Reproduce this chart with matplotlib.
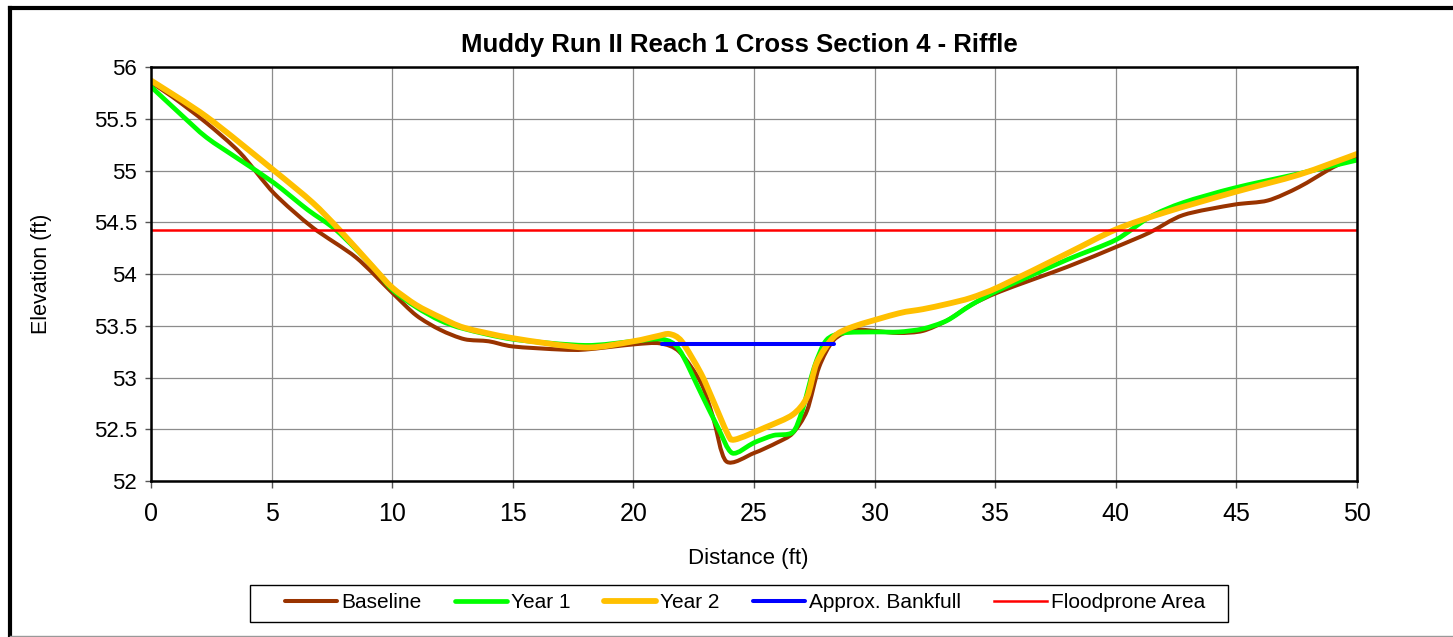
import matplotlib.pyplot as plt
from matplotlib.lines import Line2D
from matplotlib.patches import PathPatch, Rectangle
from matplotlib.path import Path

plt.rcParams['font.family'] = ['Liberation Sans', 'DejaVu Sans']

# survey points (distance ft, elevation ft)
baseline_x = [0, 0.9, 2.3, 3.7, 5.1, 6.7, 8.5, 10, 11, 12, 13, 14, 15, 17, 18, 20,
              21.1, 21.9, 22.8, 23.3, 23.85, 25, 25.95, 26.6, 27.2, 27.7, 28.3, 29.1,
              30, 31, 32, 33, 34, 35.2, 38, 40, 41.4, 42.8, 44.9, 46.3, 47.6, 49, 50]
baseline_y = [55.85, 55.71, 55.46, 55.17, 54.78, 54.45, 54.16, 53.82, 53.6, 53.46,
              53.37, 53.35, 53.30, 53.27, 53.27, 53.32, 53.33, 53.25, 52.95, 52.62,
              52.19, 52.27, 52.37, 52.46, 52.68, 53.1, 53.36, 53.46, 53.45, 53.43,
              53.45, 53.55, 53.7, 53.83, 54.07, 54.26, 54.4, 54.57, 54.67, 54.71,
              54.84, 55.03, 55.14]

year1_x = [0, 1.2, 2.3, 3.7, 5.1, 6.5, 7.7, 9.2, 10, 11, 12, 13, 15, 18, 20, 21.2,
           21.9, 22.8, 23.5, 24.1, 25, 25.8, 26.6, 27, 27.5, 28, 28.7, 30, 31, 32,
           33, 34, 35.2, 38, 40, 41.4, 42.8, 44.9, 47.6, 50]
year1_y = [55.81, 55.55, 55.32, 55.1, 54.88, 54.62, 54.42, 54.07, 53.85, 53.68,
           53.55, 53.47, 53.37, 53.31, 53.35, 53.37, 53.27, 52.85, 52.52, 52.27,
           52.37, 52.44, 52.47, 52.68, 53.1, 53.36, 53.43, 53.44, 53.44, 53.47,
           53.55, 53.7, 53.85, 54.14, 54.33, 54.55, 54.69, 54.83, 54.97, 55.1]

year2_x = [0, 2.3, 5.1, 6.7, 7.8, 9.2, 10, 11, 12, 13, 15, 18, 20, 21, 21.5, 22,
           22.8, 23.3, 23.9, 24.2, 25.5, 26.6, 27.2, 27.6, 28.3, 29.1, 31, 32, 33,
           34, 35.2, 38, 40, 42.1, 44.9, 47.6, 50]
year2_y = [55.87, 55.52, 55.0, 54.69, 54.43, 54.07, 53.87, 53.70, 53.58, 53.48,
           53.38, 53.29, 53.35, 53.40, 53.42, 53.35, 53.04, 52.78, 52.46, 52.40,
           52.52, 52.64, 52.81, 53.14, 53.39, 53.49, 53.62, 53.66, 53.71, 53.77,
           53.88, 54.2, 54.43, 54.6, 54.79, 54.96, 55.16]

bankfull_x = [21.2, 28.3]
bankfull_elev = 53.32
floodprone_x = [0, 50]
floodprone_elev = 54.43


def smooth_path(xs, ys, t=0.14):
    # Excel-style smoothed line: bezier segments through the surveyed points
    pts = list(zip(xs, ys))
    verts = [pts[0]]
    codes = [Path.MOVETO]
    for i in range(len(pts) - 1):
        p0 = pts[i - 1] if i > 0 else pts[i]
        p1, p2 = pts[i], pts[i + 1]
        p3 = pts[i + 2] if i + 2 < len(pts) else p2
        c1 = (p1[0] + (p2[0] - p0[0]) * t, p1[1] + (p2[1] - p0[1]) * t)
        c2 = (p2[0] - (p3[0] - p1[0]) * t, p2[1] - (p3[1] - p1[1]) * t)
        verts += [c1, c2, p2]
        codes += [Path.CURVE4] * 3
    return Path(verts, codes)


fig = plt.figure(figsize=(14.53, 6.37), dpi=100)
ax = fig.add_axes([0.1039, 0.2449, 0.8300, 0.6499])

series = [
    (baseline_x, baseline_y, '#993300', 2.9, 'Baseline'),
    (year1_x, year1_y, '#00ff00', 3.4, 'Year 1'),
    (year2_x, year2_y, '#ffc000', 4.2, 'Year 2'),
]
handles = []
for xs, ys, col, lw, name in series:
    ax.add_patch(PathPatch(smooth_path(xs, ys), fill=False, edgecolor=col, lw=lw,
                           joinstyle='round', capstyle='round'))
    handles.append(Line2D([], [], color=col, lw=lw, solid_capstyle='round', label=name))

bf, = ax.plot(bankfull_x, [bankfull_elev] * 2, color='#0000ff', lw=2.9,
              label='Approx. Bankfull', solid_capstyle='round')
fp, = ax.plot(floodprone_x, [floodprone_elev] * 2, color='#ff0000', lw=1.8,
              label='Floodprone Area')
handles += [bf, fp]

ax.set_xlim(0, 50)
ax.set_ylim(52, 56)
ax.set_xticks(range(0, 51, 5))
ax.set_yticks([52, 52.5, 53, 53.5, 54, 54.5, 55, 55.5, 56])
ax.set_yticklabels(['52', '52.5', '53', '53.5', '54', '54.5', '55', '55.5', '56'])
ax.grid(True, color='#8c8c8c', lw=0.9)
ax.set_axisbelow(True)
for s in ax.spines.values():
    s.set_linewidth(1.8)
    s.set_color('black')
ax.tick_params(axis='x', labelsize=18, length=5, width=1, color='#555555', pad=10)
ax.tick_params(axis='y', labelsize=16, length=4, width=1, color='#555555', pad=6)

ax.set_title('Muddy Run II Reach 1 Cross Section 4 - Riffle', fontsize=18.5,
             fontweight='bold', pad=11, x=(739 - 151) / 1206)
ax.set_xlabel('Distance (ft)', fontsize=16, labelpad=16, x=(748 - 151) / 1206)
ax.set_ylabel('Elevation (ft)', fontsize=15.5, labelpad=30)

leg = fig.legend(handles=handles, loc='center',
                 bbox_to_anchor=(745 / 1453, 1 - 603 / 637), ncol=5,
                 fontsize=15, frameon=False, handlelength=2.5,
                 handletextpad=0.2, columnspacing=1.6)
fig.add_artist(Rectangle((250 / 1453, 1 - 622 / 637), 978 / 1453, 37 / 637,
                         fill=False, edgecolor='black', lw=1.0,
                         transform=fig.transFigure))

# outer chart border
fig.add_artist(Line2D([10 / 1453, 1], [1 - 8 / 637] * 2, color='black', lw=3,
                      transform=fig.transFigure))
fig.add_artist(Line2D([10 / 1453] * 2, [1 - 8 / 637, 1 / 637], color='black', lw=3,
                      transform=fig.transFigure))
fig.add_artist(Line2D([10 / 1453, 1], [1 / 637] * 2, color='#999999', lw=1,
                      transform=fig.transFigure))

fig.savefig('out.png', dpi=100)
